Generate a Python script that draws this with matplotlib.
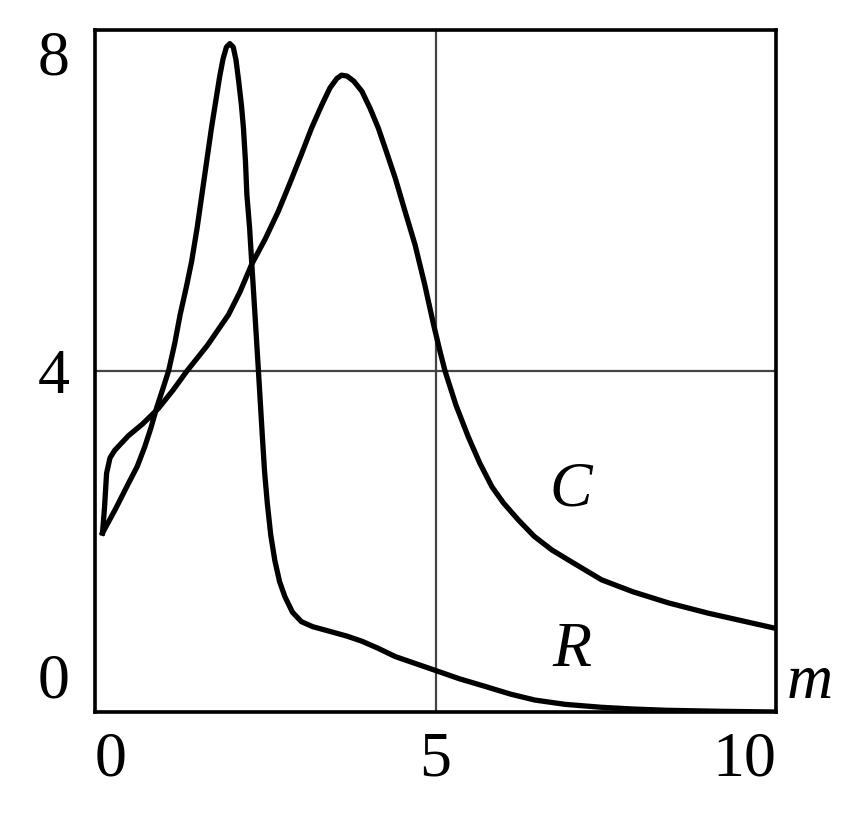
import matplotlib
matplotlib.use('Agg')
import matplotlib.pyplot as plt

# values
m_R = [0.11, 0.30, 0.49, 0.62, 0.73, 0.82, 0.91, 1.00, 1.08, 1.17, 1.25, 1.34, 1.42,
       1.50, 1.57, 1.64, 1.71, 1.77, 1.83, 1.88, 1.93, 1.98, 2.03, 2.07, 2.11, 2.15,
       2.18, 2.21, 2.23, 2.27, 2.30, 2.35, 2.40, 2.43, 2.46, 2.49, 2.53, 2.58, 2.64,
       2.71, 2.79, 2.90, 3.03, 3.20, 3.43, 3.70, 3.92, 4.15, 4.41, 4.70, 4.99, 5.35,
       5.73, 6.10, 6.46, 6.90, 7.44, 7.90, 8.40, 9.20, 10.0]
R = [2.10, 2.38, 2.68, 2.88, 3.11, 3.33, 3.58, 3.80, 4.00, 4.32, 4.66, 4.98, 5.29,
     5.68, 6.07, 6.46, 6.85, 7.15, 7.45, 7.66, 7.80, 7.84, 7.80, 7.65, 7.40, 7.12,
     6.85, 6.45, 6.07, 5.68, 5.29, 4.65, 4.00, 3.60, 3.20, 2.82, 2.45, 2.08, 1.78,
     1.53, 1.35, 1.17, 1.06, 1.00, 0.95, 0.89, 0.83, 0.75, 0.65, 0.57, 0.49, 0.39,
     0.30, 0.21, 0.14, 0.09, 0.055, 0.035, 0.02, 0.008, 0.0]

m_C = [0.11, 0.14, 0.17, 0.22, 0.29, 0.49, 0.70, 0.93, 1.15, 1.35, 1.65, 1.96, 2.13,
       2.30, 2.50, 2.69, 2.86, 3.03, 3.18, 3.33, 3.45, 3.55, 3.62, 3.70, 3.80, 3.92,
       4.04, 4.16, 4.28, 4.41, 4.55, 4.70, 4.84, 4.97, 5.06, 5.14, 5.30, 5.48, 5.65,
       5.83, 6.00, 6.22, 6.45, 6.71, 7.00, 7.44, 7.90, 8.42, 9.00, 9.50, 10.0]
C = [2.10, 2.40, 2.80, 2.98, 3.07, 3.24, 3.38, 3.56, 3.78, 4.00, 4.30, 4.66, 4.93,
     5.25, 5.55, 5.87, 6.20, 6.54, 6.85, 7.12, 7.32, 7.43, 7.47, 7.46, 7.40, 7.28,
     7.08, 6.85, 6.57, 6.26, 5.88, 5.48, 5.02, 4.55, 4.25, 4.00, 3.60, 3.23, 2.92,
     2.64, 2.45, 2.25, 2.06, 1.90, 1.76, 1.55, 1.41, 1.28, 1.16, 1.07, 0.98]

xticks = [0, 5, 10]
yticks = [0, 4, 8]

plt.rcParams['font.family'] = ['Liberation Serif', 'DejaVu Serif']
plt.rcParams['font.size'] = 46

fig = plt.figure(figsize=(8.67, 8.31), dpi=100)
ax = fig.add_axes([95 / 867, 1 - 712 / 831, (776 - 95) / 867, (712 - 30) / 831])

ax.plot(m_R, R, color='k', lw=3.8, solid_joinstyle='round', zorder=3)
ax.plot(m_C, C, color='k', lw=3.8, solid_joinstyle='round', zorder=3)

ax.set_xlim(0, 10)
ax.set_ylim(0, 8)
ax.set_xticks(xticks)
ax.set_yticks(yticks)
ax.set_xticklabels([str(v) for v in xticks])
ax.set_yticklabels([str(v) for v in yticks])
xl = ax.get_xticklabels()
xl[0].set_ha('left')
xl[2].set_ha('right')
yl = ax.get_yticklabels()
yl[0].set_va('bottom')
yl[2].set_va('top')
ax.tick_params(length=0, labelsize=46)
ax.tick_params(axis='x', pad=14)
ax.tick_params(axis='y', pad=18)

ax.grid(True, color='#444444', lw=1.6)
ax.set_axisbelow(True)
for s in ax.spines.values():
    s.set_linewidth(2.6)
    s.set_color('k')

ax.text(6.98, 2.60, 'C', style='italic', fontsize=46, ha='center', va='center')
ax.text(7.0, 0.71, 'R', style='italic', fontsize=46, ha='center', va='center')
ax.text(10.5, 0.34, 'm', style='italic', fontsize=46, ha='center', va='center',
        clip_on=False)

fig.savefig('out.png', dpi=100)
